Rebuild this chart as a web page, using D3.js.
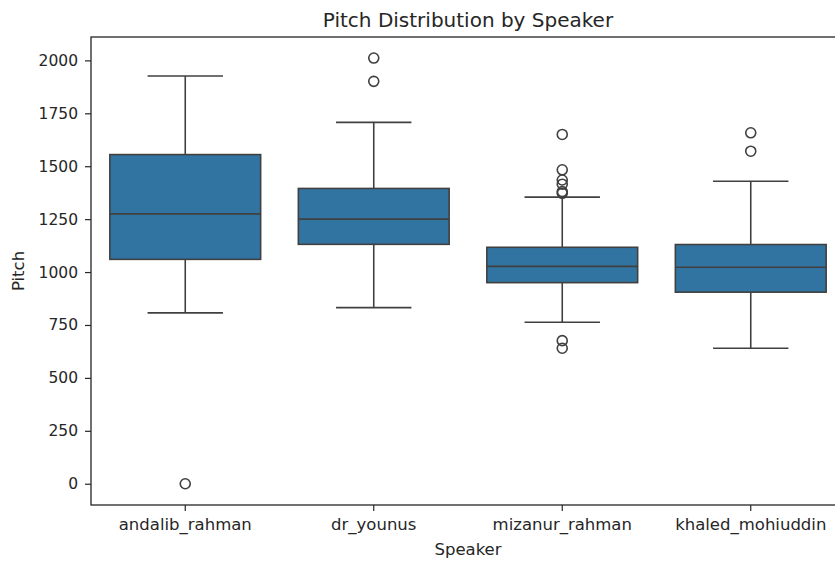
<!DOCTYPE html>
<html>
<head>
<meta charset="utf-8">
<script src="https://cdn.jsdelivr.net/npm/d3@7"></script>
<style>
body { margin: 0; background: #fff; }
text { font-family: "DejaVu Sans", sans-serif; fill: #262626; }
</style>
</head>
<body>
<svg id="chart" width="835" height="562"></svg>
<script>
const speakers = ["andalib_rahman", "dr_younus", "mizanur_rahman", "khaled_mohiuddin"];
const whiskerLow = [807, 832, 763, 640];
const q1 = [1060, 1131, 950, 905];
const median = [1275, 1250, 1027, 1023];
const q3 = [1555, 1395, 1117, 1130];
const whiskerHigh = [1926, 1707, 1354, 1429];
const outliers = [
  [0],
  [2011, 1901],
  [1650, 1483, 1435, 1415, 1380, 1372, 676, 640],
  [1658, 1571]
];
const yTicks = [0, 250, 500, 750, 1000, 1250, 1500, 1750, 2000];

const svg = d3.select("#chart");
const margin = { left: 91, top: 37, right: 845, bottom: 505 };
const x = d3.scaleBand().domain(speakers).range([margin.left, margin.right]).padding(0);
const y = d3.scaleLinear().domain([-100.5, 2110.5]).range([margin.bottom, margin.top]);

const boxFill = "#3274a1";
const lineCol = "#404040";
const bw = x.bandwidth() * 0.8;
const capW = bw / 2;

const data = speakers.map((s, i) => ({
  s, lo: whiskerLow[i], q1: q1[i], med: median[i], q3: q3[i], hi: whiskerHigh[i], out: outliers[i]
}));

const g = svg.append("g");
const cx = d => x(d.s) + x.bandwidth() / 2;

// whiskers
g.selectAll(".wl").data(data).join("line")
  .attr("x1", cx).attr("x2", cx).attr("y1", d => y(d.q1)).attr("y2", d => y(d.lo))
  .attr("stroke", lineCol).attr("stroke-width", 1.6);
g.selectAll(".wh").data(data).join("line")
  .attr("x1", cx).attr("x2", cx).attr("y1", d => y(d.q3)).attr("y2", d => y(d.hi))
  .attr("stroke", lineCol).attr("stroke-width", 1.6);
// caps
g.selectAll(".cl").data(data).join("line")
  .attr("x1", d => cx(d) - capW / 2).attr("x2", d => cx(d) + capW / 2)
  .attr("y1", d => y(d.lo)).attr("y2", d => y(d.lo))
  .attr("stroke", lineCol).attr("stroke-width", 1.6);
g.selectAll(".ch").data(data).join("line")
  .attr("x1", d => cx(d) - capW / 2).attr("x2", d => cx(d) + capW / 2)
  .attr("y1", d => y(d.hi)).attr("y2", d => y(d.hi))
  .attr("stroke", lineCol).attr("stroke-width", 1.6);
// boxes
g.selectAll(".box").data(data).join("rect")
  .attr("x", d => cx(d) - bw / 2).attr("width", bw)
  .attr("y", d => y(d.q3)).attr("height", d => y(d.q1) - y(d.q3))
  .attr("fill", boxFill).attr("stroke", lineCol).attr("stroke-width", 1.6);
// medians
g.selectAll(".med").data(data).join("line")
  .attr("x1", d => cx(d) - bw / 2).attr("x2", d => cx(d) + bw / 2)
  .attr("y1", d => y(d.med)).attr("y2", d => y(d.med))
  .attr("stroke", lineCol).attr("stroke-width", 1.6);
// outliers
data.forEach(d => {
  g.selectAll(null).data(d.out).join("circle")
    .attr("cx", cx(d)).attr("cy", v => y(v)).attr("r", 5)
    .attr("fill", "none").attr("stroke", lineCol).attr("stroke-width", 1.6);
});

// axes
const yAxis = d3.axisLeft(y).tickValues(yTicks).tickSize(6).tickPadding(7).tickFormat(d3.format("d"));
const ya = svg.append("g").attr("transform", `translate(${margin.left},0)`).call(yAxis);
const xAxis = d3.axisBottom(x).tickSize(6).tickPadding(7);
const xa = svg.append("g").attr("transform", `translate(0,${margin.bottom})`).call(xAxis);
[ya, xa].forEach(a => {
  a.select(".domain").remove();
  a.selectAll(".tick line").attr("stroke", "#262626").attr("stroke-width", 1.2);
  a.selectAll(".tick text").attr("fill", "#262626").style("font-family", "DejaVu Sans");
});
ya.selectAll(".tick text").attr("font-size", 15.5);
xa.selectAll(".tick text").attr("font-size", 16.5);

// frame
svg.append("rect").attr("x", margin.left).attr("y", margin.top)
  .attr("width", margin.right - margin.left).attr("height", margin.bottom - margin.top)
  .attr("fill", "none").attr("stroke", "#262626").attr("stroke-width", 1.3);

// labels
svg.append("text").attr("x", (margin.left + margin.right) / 2).attr("y", 27)
  .attr("text-anchor", "middle").attr("font-size", 20).text("Pitch Distribution by Speaker");
svg.append("text").attr("x", (margin.left + margin.right) / 2).attr("y", 555)
  .attr("text-anchor", "middle").attr("font-size", 16.5).text("Speaker");
svg.append("text").attr("transform", `translate(24,${(margin.top + margin.bottom) / 2}) rotate(-90)`)
  .attr("text-anchor", "middle").attr("font-size", 16.5).text("Pitch");
</script>
</body>
</html>
